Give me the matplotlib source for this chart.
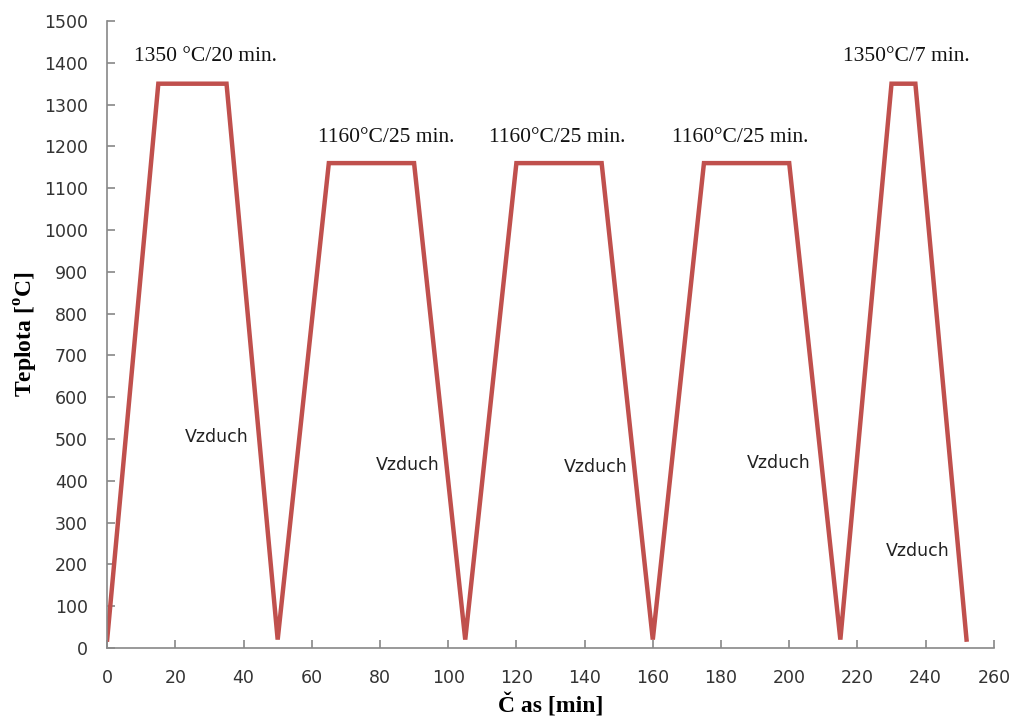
import matplotlib
matplotlib.use("Agg")
import matplotlib.pyplot as plt

time_min = [0, 15, 35, 50, 65, 90, 105, 120, 145, 160, 175, 200, 215, 230, 237, 252]
temp_c = [20, 1350, 1350, 20, 1160, 1160, 20, 1160, 1160, 20, 1160, 1160, 20, 1350, 1350, 20]

hold_labels = ["1350 \u00b0C/20 min.", "1160\u00b0C/25 min.", "1160\u00b0C/25 min.", "1160\u00b0C/25 min.", "1350\u00b0C/7 min."]
hold_x = [28.7, 81.8, 131.9, 185.5, 234.2]
hold_y = [1414, 1222, 1222, 1222, 1414]

air_label = "Vzduch"
air_x = [32.2, 88.2, 143.3, 197.0, 237.7]
air_y = [505, 438, 433, 443, 232]

x_ticks = list(range(0, 261, 20))
y_ticks = list(range(0, 1501, 100))

fig = plt.figure(figsize=(10.11, 7.17), dpi=100)
ax = fig.add_axes([0.106, 0.0963, 0.877, 0.8744])

ax.plot(time_min, temp_c, color="#C0504D", linewidth=3.2, solid_joinstyle="miter")

for t, x, y in zip(hold_labels, hold_x, hold_y):
    ax.text(x, y, t, ha="center", va="center", fontsize=15.5, family="Liberation Serif", color="#111111")
for x, y in zip(air_x, air_y):
    ax.text(x, y, air_label, ha="center", va="center", fontsize=12.5, family="DejaVu Sans", color="#222222")

ax.set_xlim(0, 260)
ax.set_ylim(0, 1500)
ax.set_xticks(x_ticks)
ax.set_yticks(y_ticks)
for s in ["top", "right"]:
    ax.spines[s].set_visible(False)
for s in ["left", "bottom"]:
    ax.spines[s].set_color("#888888")
    ax.spines[s].set_linewidth(1.2)
ax.tick_params(direction="in", length=6, color="#888888", width=1.2, labelsize=12.5, labelcolor="#333333")
ax.tick_params(axis="x", pad=15)
ax.tick_params(axis="y", pad=14)

ax.set_xlabel("\u010c as [min]", fontsize=17, fontweight="bold", family="Liberation Serif", labelpad=5)
ax.set_ylabel("Teplota [$^{\\mathregular{o}}$C]", fontsize=17, fontweight="bold", family="Liberation Serif", labelpad=3)

fig.savefig("out.png", dpi=100)
